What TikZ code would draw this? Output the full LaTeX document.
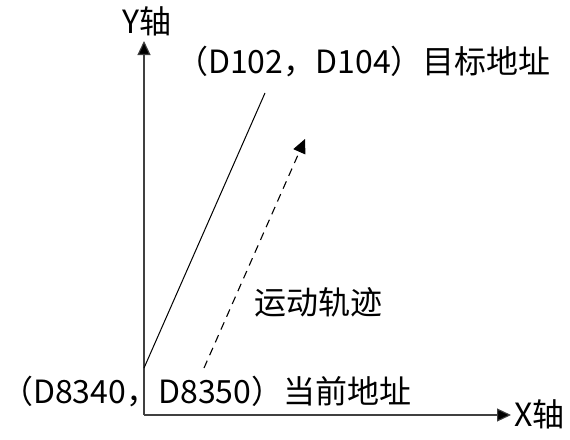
\documentclass[tikz,border=0pt]{standalone}
\usepackage{fontspec}
\setmainfont{Noto Sans CJK SC}
\usetikzlibrary{arrows.meta}
\begin{document}
\begin{tikzpicture}[x=1pt,y=-1pt,
  lbl/.style={inner sep=0pt,font=\fontsize{32}{36}\selectfont},
  axis/.style={line width=1.1pt,draw=black!75,-{Triangle[length=14pt,width=13pt,fill=black]}},
  path/.style={line width=1pt,draw=black}]
\useasboundingbox (0,0) rectangle (570,439);
\coordinate (o) at (144,415);
\coordinate (ytip) at (144,41);
\coordinate (xtip) at (511,415);
\draw[axis] (o) -- (ytip);
\draw[axis] (o) -- (xtip);
\node[lbl,anchor=south] (ylab) at (147,36) {Y轴};
\node[lbl,anchor=west] (xlab) at (514,414) {X轴};
\coordinate (s0) at (144,368);
\coordinate (s1) at (265,93);
\draw[path] (s0) -- (s1);
\coordinate (d0) at (204,368);
\coordinate (d1) at (305,139);
\draw[line width=1.1pt,dash pattern=on 8pt off 6pt,-{Triangle[length=14pt,width=13pt]}] (d0) -- (d1);
\node[lbl,anchor=west] (tgt) at (176,62) {（D102，D104）目标地址};
\node[lbl,anchor=west] (cur) at (1,392) {（D8340，D8350）当前地址};
\node[lbl,anchor=west] (trk) at (254,302) {运动轨迹};
\end{tikzpicture}
\end{document}
